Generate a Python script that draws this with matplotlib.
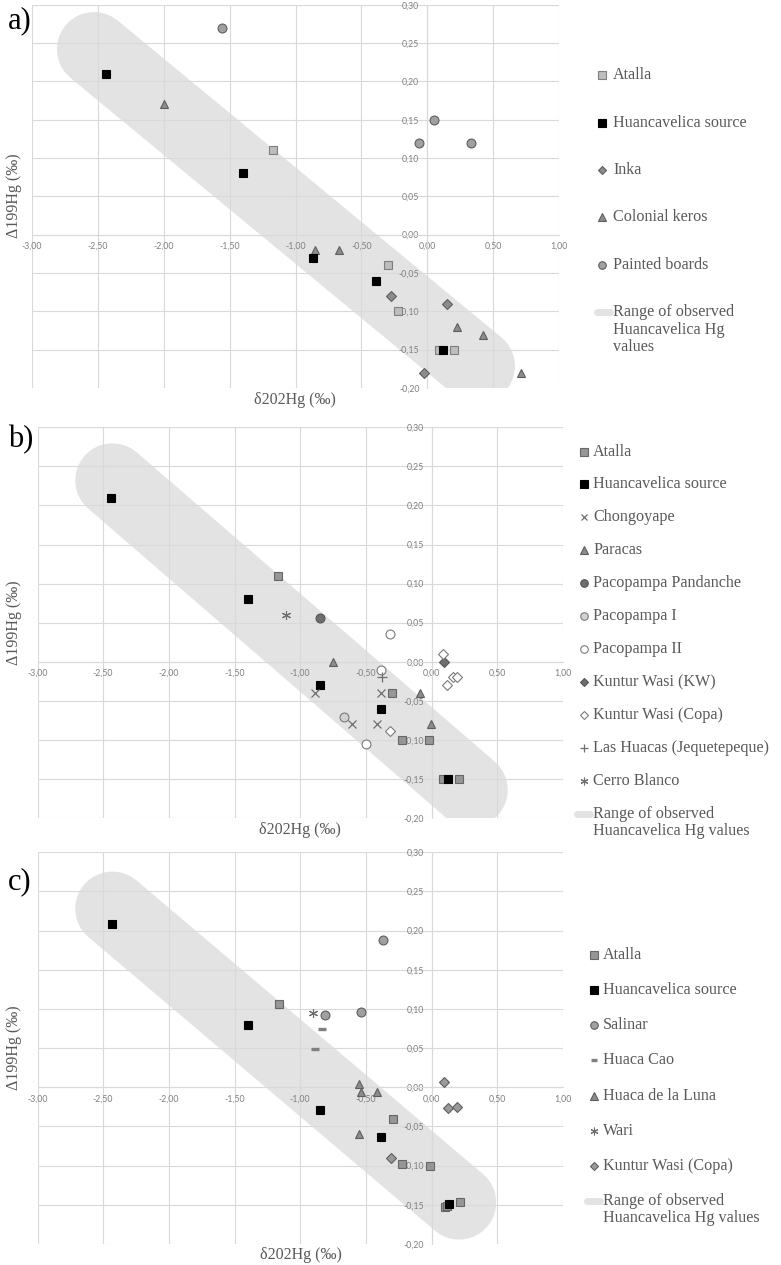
import matplotlib
matplotlib.use("Agg")
import matplotlib.pyplot as plt
from matplotlib import font_manager
from matplotlib.ticker import FuncFormatter, MultipleLocator

# ---------------- data ----------------
# Panel a
a_atalla_x = [-1.17, -0.30, -0.225, 0.09, 0.20]
a_atalla_y = [0.11, -0.04, -0.10, -0.15, -0.15]
a_huanca_x = [-2.44, -1.40, -0.865, -0.387, 0.12]
a_huanca_y = [0.21, 0.08, -0.030, -0.060, -0.15]
a_inka_x = [-0.277, 0.152, -0.028]
a_inka_y = [-0.080, -0.090, -0.180]
a_keros_x = [-2.0, -0.85, -0.67, 0.225, 0.42, 0.713]
a_keros_y = [0.170, -0.020, -0.020, -0.121, -0.131, -0.181]
a_boards_x = [-1.56, 0.05, -0.06, 0.33]
a_boards_y = [0.27, 0.15, 0.12, 0.12]
a_band_x = [-2.53, 0.384]
a_band_y = [0.242, -0.1715]

# Panel b
b_atalla_x = [-1.17, -0.30, -0.228, -0.02, 0.09, 0.21]
b_atalla_y = [0.11, -0.04, -0.10, -0.10, -0.15, -0.15]
b_huanca_x = [-2.44, -1.40, -0.853, -0.383, 0.125]
b_huanca_y = [0.21, 0.08, -0.03, -0.06, -0.15]
b_chongo_x = [-0.89, -0.607, -0.418, -0.387]
b_chongo_y = [-0.04, -0.08, -0.08, -0.04]
b_paracas_x = [-0.748, -0.087, -0.008]
b_paracas_y = [0.0, -0.04, -0.08]
b_pandanche_x = [-0.85]
b_pandanche_y = [0.056]
b_paco1_x = [-0.665]
b_paco1_y = [-0.071]
b_paco2_x = [-0.50, -0.32, -0.385]
b_paco2_y = [-0.105, 0.035, -0.010]
b_kw_x = [0.098]
b_kw_y = [0.0]
b_copa_x = [0.084, 0.12, 0.166, 0.196, -0.32]
b_copa_y = [0.01, -0.03, -0.02, -0.02, -0.089]
b_huacas_x = [-0.38]
b_huacas_y = [-0.019]
b_cerro_x = [-1.106]
b_cerro_y = [0.06]
b_band_x = [-2.43, 0.297]
b_band_y = [0.232, -0.164]

# Panel c
c_atalla_x = [-1.16, -0.295, -0.225, -0.015, 0.10, 0.12, 0.215]
c_atalla_y = [0.106, -0.041, -0.098, -0.10, -0.153, -0.151, -0.146]
c_huanca_x = [-2.435, -1.40, -0.85, -0.383, 0.136]
c_huanca_y = [0.208, 0.08, -0.0285, -0.064, -0.149]
c_salinar_x = [-0.815, -0.535, -0.37]
c_salinar_y = [0.092, 0.096, 0.188]
c_cao_x = [-0.837, -0.889]
c_cao_y = [0.0745, 0.049]
c_luna_x = [-0.553, -0.537, -0.418, -0.55]
c_luna_y = [0.004, -0.006, -0.006, -0.06]
c_wari_x = [-0.90]
c_wari_y = [0.095]
c_copa_x = [0.092, 0.125, 0.196, -0.307]
c_copa_y = [0.007, -0.027, -0.025, -0.09]
c_band_x = [-2.43, 0.209]
c_band_y = [0.228, -0.147]

legend_a = ["Atalla", "Huancavelica source", "Inka", "Colonial keros", "Painted boards",
            "Range of observed\nHuancavelica Hg\nvalues"]
legend_b = ["Atalla", "Huancavelica source", "Chongoyape", "Paracas", "Pacopampa Pandanche",
            "Pacopampa I", "Pacopampa II", "Kuntur Wasi (KW)", "Kuntur Wasi (Copa)",
            "Las Huacas (Jequetepeque)", "Cerro Blanco",
            "Range of observed\nHuancavelica Hg values"]
legend_c = ["Atalla", "Huancavelica source", "Salinar", "Huaca Cao", "Huaca de la Luna",
            "Wari", "Kuntur Wasi (Copa)", "Range of observed\nHuancavelica Hg values"]

xlabel = "δ202Hg (‰)"
ylabel = "Δ199Hg (‰)"

# ---------------- styles ----------------
plt.rcParams["font.family"] = ["Liberation Serif", "DejaVu Serif"]
SERIF_FP = font_manager.FontProperties(family=["Liberation Serif", "DejaVu Serif"])
TICK_FAMILY = ["Lato", "DejaVu Sans"]

W, H = 781, 1265
GRID = "#d9d9d9"
BAND = "#e3e3e3"
TXT = "#595959"

st = {
    "atalla_a": dict(marker="s", ms=6.2, mfc="#bdbdbd", mec="#7f7f7f", mew=0.8),
    "atalla": dict(marker="s", ms=6.2, mfc="#969696", mec="#666666", mew=0.8),
    "huanca": dict(marker="s", ms=6.2, mfc="black", mec="black", mew=0.8),
    "diam": dict(marker="D", ms=4.8, mfc="#8c8c8c", mec="#5e5e5e", mew=0.8),
    "tri": dict(marker="^", ms=6.2, mfc="#8c8c8c", mec="#5e5e5e", mew=0.8),
    "circ": dict(marker="o", ms=6.4, mfc="#a0a0a0", mec="#5e5e5e", mew=0.8),
    "x": dict(marker="x", ms=5.6, mfc="none", mec="#6e6e6e", mew=0.9),
    "circ_dark": dict(marker="o", ms=6.4, mfc="#6e6e6e", mec="#555555", mew=0.8),
    "circ_light": dict(marker="o", ms=6.4, mfc="#d2d2d2", mec="#7a7a7a", mew=0.8),
    "circ_white": dict(marker="o", ms=6.4, mfc="white", mec="#7a7a7a", mew=0.8),
    "diam_dark": dict(marker="D", ms=4.8, mfc="#6e6e6e", mec="#555555", mew=0.8),
    "diam_white": dict(marker="D", ms=4.8, mfc="white", mec="#7a7a7a", mew=0.8),
    "plus": dict(marker="+", ms=6.5, mec="#6e6e6e", mew=0.9),
    "ast": dict(marker=(6, 2, 0), ms=6.5, mec="#6e6e6e", mew=0.8),
    "dash": dict(marker="_", ms=5.5, mec="#808080", mew=2.4),
    "diam_c": dict(marker="D", ms=4.8, mfc="#9a9a9a", mec="#5e5e5e", mew=0.8),
}

fig = plt.figure(figsize=(W / 100, H / 100), dpi=100)


def px_axes(l, t, r, b):
    return fig.add_axes([l / W, 1 - b / H, (r - l) / W, (b - t) / H])


fmt = FuncFormatter(lambda v, p: f"{v:.2f}".replace(".", ",").replace("-0,00", "0,00"))


def setup(ax):
    ax.set_xlim(-3, 1)
    ax.set_ylim(-0.2, 0.3)
    ax.xaxis.set_major_locator(MultipleLocator(0.5))
    ax.yaxis.set_major_locator(MultipleLocator(0.05))
    ax.xaxis.set_major_formatter(fmt)
    ax.yaxis.set_major_formatter(fmt)
    ax.grid(True, color=GRID, lw=0.8)
    for s in ["top", "right"]:
        ax.spines[s].set_visible(False)
    ax.spines["left"].set_position(("data", 0))
    ax.spines["bottom"].set_position(("data", 0))
    for s in ["left", "bottom"]:
        ax.spines[s].set_color(GRID)
        ax.spines[s].set_linewidth(0.8)
    ax.tick_params(axis="x", length=0, pad=5.0, labelsize=6.3, labelcolor="#7f7f7f",
                   labelfontfamily=TICK_FAMILY)
    ax.tick_params(axis="y", length=0, pad=5.6, labelsize=6.3, labelcolor="#7f7f7f",
                   labelfontfamily=TICK_FAMILY)
    ax.patch.set_alpha(0)


def band(ax, bx, by):
    ax.plot(bx, by, color=BAND, lw=53.5, solid_capstyle="round", zorder=1)


def pts(ax, x, y, key):
    ax.plot(x, y, ls="none", zorder=3, **st[key])


# Panel a
axa = px_axes(32.1, 4.7, 559, 388)
setup(axa)
band(axa, a_band_x, a_band_y)
pts(axa, a_boards_x, a_boards_y, "circ")
pts(axa, a_keros_x, a_keros_y, "tri")
pts(axa, a_inka_x, a_inka_y, "diam")
pts(axa, a_atalla_x, a_atalla_y, "atalla_a")
pts(axa, a_huanca_x, a_huanca_y, "huanca")

# Panel b
axb = px_axes(37.5, 427.3, 563, 818)
setup(axb)
band(axb, b_band_x, b_band_y)
pts(axb, b_atalla_x, b_atalla_y, "atalla")
pts(axb, b_huanca_x, b_huanca_y, "huanca")
pts(axb, b_chongo_x, b_chongo_y, "x")
pts(axb, b_paracas_x, b_paracas_y, "tri")
pts(axb, b_pandanche_x, b_pandanche_y, "circ_dark")
pts(axb, b_paco1_x, b_paco1_y, "circ_light")
pts(axb, b_paco2_x, b_paco2_y, "circ_white")
pts(axb, b_kw_x, b_kw_y, "diam_dark")
pts(axb, b_copa_x, b_copa_y, "diam_white")
pts(axb, b_huacas_x, b_huacas_y, "plus")
pts(axb, b_cerro_x, b_cerro_y, "ast")

# Panel c
axc = px_axes(37.5, 852.3, 563, 1244)
setup(axc)
band(axc, c_band_x, c_band_y)
pts(axc, c_atalla_x, c_atalla_y, "atalla")
pts(axc, c_huanca_x, c_huanca_y, "huanca")
pts(axc, c_salinar_x, c_salinar_y, "circ")
pts(axc, c_cao_x, c_cao_y, "dash")
pts(axc, c_luna_x, c_luna_y, "tri")
pts(axc, c_wari_x, c_wari_y, "ast")
pts(axc, c_copa_x, c_copa_y, "diam_c")

# Overlay for labels and legends (pixel coordinates)
lax = fig.add_axes([0, 0, 1, 1])
lax.set_xlim(0, W)
lax.set_ylim(H, 0)
lax.axis("off")


def stext(x, y, s, size, **kw):
    fp = SERIF_FP.copy()
    fp.set_size(size)
    return lax.text(x, y, s, fontproperties=fp, **kw)


for letter, y in [("a)", 21), ("b)", 440), ("c)", 882)]:
    stext(8, y, letter, 22, color="black", va="center", ha="left")

for (xc, yc) in [(295, 400), (300, 830), (301, 1255)]:
    stext(xc, yc, xlabel, 11.5, color=TXT, ha="center", va="center")
for yc in [196, 623, 1048]:
    stext(14, yc, ylabel, 11.5, color=TXT, ha="center", va="center", rotation=90)


def legend(labels, keys, ys, mx, tx, band_x0):
    for lab, key, y in zip(labels, keys, ys):
        if key == "band":
            lax.plot([band_x0, tx - 3], [y, y], color=BAND, lw=5, solid_capstyle="round")
            for i, ln in enumerate(lab.split("\n")):
                stext(tx, y + i * 17.5, ln, 11.6, color=TXT, va="center", ha="left")
        else:
            s = dict(st[key])
            s["ms"] = s["ms"] * 0.85
            lax.plot([mx], [y], ls="none", **s)
            stext(tx, y, lab, 11.6, color=TXT, va="center", ha="left")


legend(legend_a, ["atalla_a", "huanca", "diam", "tri", "circ", "band"],
       [75, 122.7, 170, 217.3, 265, 312], 601.7, 613.3, 597)
legend(legend_b, ["atalla", "huanca", "x", "tri", "circ_dark", "circ_light", "circ_white",
                  "diam_dark", "diam_white", "plus", "ast", "band"],
       [451.7, 484, 517, 550, 583, 616, 649, 682, 715, 748, 781, 813.7], 584, 593, 577)
legend(legend_c, ["atalla", "huanca", "circ", "dash", "tri", "ast", "diam_c", "band"],
       [955, 990, 1025, 1060, 1096, 1131, 1166, 1201], 594, 603, 587)

fig.savefig("out.png", dpi=100, facecolor="white")
